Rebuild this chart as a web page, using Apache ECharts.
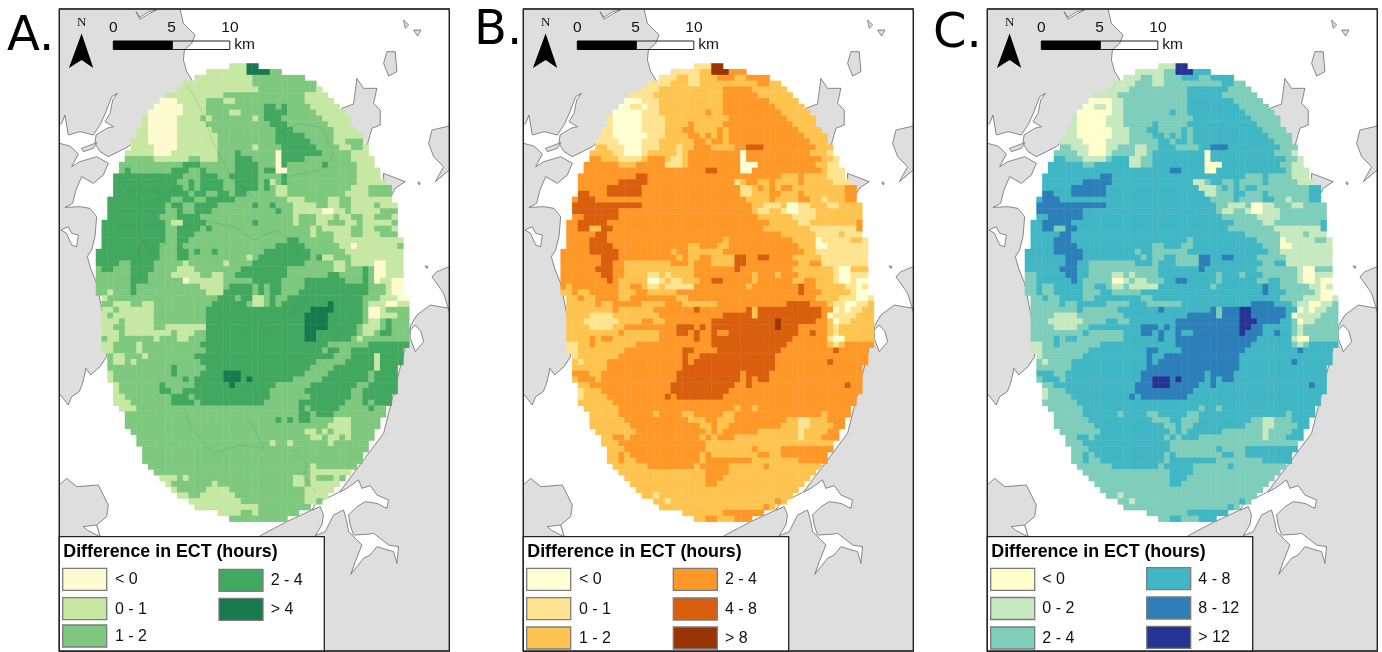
<!DOCTYPE html>
<html><head><meta charset="utf-8">
<script src="https://cdn.jsdelivr.net/npm/echarts@6/dist/echarts.min.js"></script>
<style>html,body{margin:0;background:#fff}#c{width:1382px;height:652px}</style></head>
<body><div id="c"></div>
<script>
// Raster extents (shared by the three maps): first and one-past-last column per row
const rowStart=[23,19,17,15,14,12,11,10,9,8,8,7,7,6,6,5,5,4,4,3,3,3,3,2,2,2,2,1,1,1,1,1,0,0,0,0,0,0,0,0,1,1,1,1,1,1,1,1,1,1,2,2,2,2,2,3,3,3,3,4,5,5,5,6,7,7,8,8,8,9,10,11,12,13,14,16,17,21,23];
const rowEnd=[28,32,36,38,39,40,41,42,43,44,44,45,46,46,47,47,48,48,49,49,50,51,51,51,52,52,52,52,52,52,53,53,53,53,53,53,53,53,53,53,54,54,54,54,54,54,54,54,54,53,53,53,52,52,52,52,52,51,51,50,50,49,49,48,48,47,47,46,46,45,44,43,42,41,40,39,37,35,33];
// Each row: class letter + column at which that class starts
const rowsA=["b0e26","b0e26c30","b0c27","b0c27","b0c28b38","b0c22b36","a0b14c19b22c24b36","a0b15c19d29c31d32c33b37","a0b15c19b23c25d29c33b38","b0a9b14c18b19c20b27c28d29c32b39","b0a9b14c19b20c20d30c33b40","b0a9b14c20d31c34b41","b0a9b14c21d31c36b41","b0a9b14c21d31c37b41c43","b0a10b14c21b27c28d32c38b42c44b46","c0b5a10b13c21d24c25a31d32c39b44","c0b10c16b18c21d24c27a31d32c36b44","c0d15c18d24c28a31d32c33d39c40b45","c0d5c6d13c16d18c19d24c28d29a31c33b45","d0c15d18c21d23c28d32c33b45","d0c14d16c17d18c22d24c28d29c30b30c31d32c33b45","d0c15d16c17d18c22d24c28d29c30b31c33b44c47","d0c16d17c19d21c23d24c26b31c33b43c47","d0c13d15c17d19c24b33c36b40c42b44","d0c12d13c15d17c21d27c28d30c31b34c38b40c42b44c48b49","d0c12d14c15d17c20d31c32b34a39b41c43b44c49","d0c11d14c18b34c35b38c41b42c44b46c48b51","d0c12b13c15d15c19d27c28b34c35b38c40b43c45b46c51","d0c12d14c18d19c20b37c38b39c44b46c48b51","d0c12d14c17b37c38b41c44b46c49","d0c12d14c16d33c35b41","d0c11d14c15d31c36b42a44b45c52","d0c11d14c16d17c18d20c21d29c37b43","d0c11d14c16b26c27d28c37d38c39b39c41b44","d0c4d6c10b15c16b22c23d27c36b41c43b44a48b50","c0d1c3d6c10b14c17d25c33b41c43d46c47a48b50","c0d6c9b13c18b20c22d24c33d40c42d46c47a48b50","c0d6c9b15a15b16c22d27c32d36c39d39c43d46c47a48b49a51b53","c0d6c7b18c22d23c27d28c29d30c32c33d36c47b50a51b53","c0b2c3d6c7b19c22d22c27d28c29d30c32d35c47b50a51b53","c0b1c2d21c24d25c27b27c29d30c31d33c46c48b49a52","c0b3c6b8c10d20c26b27c29d30c31d32e40d41c46b47a50b52","b0c3b4c10d19e37d41c46a47b49c50","b0c2b3c10d19e36d40c46a47b49c52","c0b1c4b5c10d19e36d40c46b47c49d50c51","c0b1c3b5c10b12d19e36d40c45b46c49d50c51","c0b1c4b5c13b14c17d19e36d38c45b46c48d49c51","c0b2c4b10c11b14c16d19e36d38c44b45c46","b0c3b7c8d18c40c44d47","b0c3b7c8d19c39d40c42d44","b0c2b3c5b8c9d17c41d44b48d49","c0b3c5b6c7d18c38d43b48d49","c0d13c14d19c37d41b48d49","c0b1c3d13c14d18e22d25c36d40c47d48","b0c3d15c16d17e22d25e26d27c34d39c47d48","b0c4d11c12d17e23d24c31d37c45d47","b0c4d11c13d15c30d36c44d46","b0c5d13c16d17c30d37c44d46","b0c6d13c17d18c29d35c43d46c47d48","b0c7d35c36d37c42d47c48","c0d35c37d38c41","c0d31c32d33c34d35c37b41c44","c0b40c44","c0b36c38b39c40b41c44","c0b37c39b40c42b43c44","c0b30c31b33c34b40c41","c0","c0","c0","c0b37c38","c0b37c38b38c44","b0c14b15c16b34c36b37c38b41c42b43","b0c13b20c21b34c36b37","b0c14b19c23b36","b0c16b18c24b36","b0c25b36c38","b0c27b27c28","b0c25b27c28","c0"];
const rowsB=["b0f26","b0c24f26d29","b0c20b22c24d27c30d32c36","b0c19b22c24d34c36","b0c17d28c33","b0c16d28c34","a0b14c17d28c36","a0b12a14b15c17d28c37","a0b14c17d25c26d28c38","b0a9b14c18d29c39","b0a9b14c18d22c23d28c40","b0a9b14c18d21c23d27c28d29c41","b0a9b15c18d22c24d25c26d27c28d29c42","c0b6a10b14c17d23c25d26c28d29c43","c0b8a11b14c17b20c21d23c26c29d30e32d35c44","c0b9a11b14c15b20c21d22a31d32c43b46","d0c7b10c14d15c18b19c21d22a31d32c45b47","d0c10d13b18c21d22a31d34c44b46","d0e25d27a31d33c45b46","d0e13d15c38d41c42b46","d0e10d15b30c31d32c34d36c37d41c42c46b47","d0e8d14b31c33d34c35d36c37d38c40d49","d0e3d5e8d14b31c33d36c38d41c42d49","d0e3d6d14c32d36c37d41c43b45c46d49","e0d14c33b35c38a39b41c43b46c48","e0d10c33b34c36b38a39b41c44","d0e4d10c34b40c44","d0e3d8c36b41c43d51","d0e3c5e7d9c35b43d51","d0e6d8c38b44c48b49","d0e5d8c28d29c40a44b45c50b52","d0e5d9c22d24c27d29c41a44b46","d0e5d10c19d20c22d28c42b44","d0e7d10c20d21c22d24c26d30e30d32e34d36c40b45","d0e7d9c11d19c22d23c26d30e30d32c41d43b45","d0e6d9c11d23e30d31c40b47a48c50","d0e7d9c11b15c17b18c19d23c33d34c37d38c41b47a48b50","d0e8d9c10a15b17c18b19c21d24e26d28c33d34c40d42c44b47a48b50a51b53","d0c1d2c10d12c14b15c17b18d23c32d33e41d42c44b49a51b52","c0d2c3d5c10d13c15d20e41d42c45b50a51b53","c0d3c4d6c10d12c20d22c44b48a51b53","c0d6c7d9c14d18c21d27e39d43c46b47a49b51c53","c0d9c10c15d16e23d24e32c33e34e44d45c47a47b48a49b50c52","c0b5c9c14d17e28c33e34e44d45a46b47c51","c0b4c10d14c16d18e26f37e38d44c46a47b48c50","c0b5c9d11e20d23e24d25e26f37e38d41c46b47c48","c0d10c11c15d17e20d22e23d24e26d27e29d41e43d44c46b47c48","c0d5c6d7c9d17e23d24e26d40c46b46a47c49","b0c3d5c6d13e26d39c46b47c48d49","b0c3d11e21d23e27d38e47d48","c0b2c3d10e21d22e24d37","c0b3c4d8e21d22e23d37e46d47","c0d8e21d37","d0c5d7e20d31e32d33e33d36","c0d3c6d7e20d31e32d33e34d36","c0d5e19d30e32d33e49d50","b0c4d7e19d29","b0c4d8e18d19e20d28","c0d9","c0d10c30d31c33d34","c0d10c16d17c21d23c28d30c45d46","c0d11c22d25c27d30c39b41c43d46","c0d12c24d26c27d29c38b41c43d47","c0d13c25d26c27d28c34b41c42d46","c0d9c11d12c24d25c26d27c30b41c42d45","c0d10c25","c0d11c25d33c34d38","c0d10c11d12c24d25c26d34c36d38","c0d10c11d13c24d25c33d41","c0d15c23d24c29d35c36","c0d25c29","c0d25c28","c0d25c27","c0","c0b16c17","c0b18c19d37c38","c0d35c36","c0d28","c0d25c27d30"];
const rowsC=["b0f26","b0c24b26f26d29","b0c20b22c24d27c30d32c36","b0c19b22c24d34c36","b0c18d28c35","b0c16d28c34","a0b15c17d28c36","a0b12a14b15c17d28c37","a0b15c17d25c26d28c38","b0a9b14c17d29c39","b0a9b14c17d22c23d28c40","b0a9b15c18d21c23d27c28d29c41","b0a9b15c18d22c24d25c26d27c28d29c42","c0b6a10b14c18d23c25d26c28d29c43","c0b8a11b14c16b19c21d23c26c29d30e32d35c44","c0b9a11b14c15b19c21d22a31d32c43b46","d0c7b10c14d15c18b18c20d22a31d32c45b47","d0c10d12b18c20d22a31d34c44b46","d0e25d27a31d33c45b46","d0e13d15c38d41c42b46","d0e10d15b29c31d32c34d36c37d41c42c46b47","d0e8d14b30c33d34c35d36c37d38c40d49","d0e3d5e8d14b31c33d36c38d41c42d49","d0e3d6d14c32d36c37d41c43b45c46d49","e0d14c33b35c38a39b41c43b46c48","e0d10c33b34c36b38a39b41c44","d0e4d10c34b40c44","d0e3d8c36b41c43d51","d0e3c5e7d9c35b43d51","d0e6d8c38b44c48b49","d0e5d8c28d29c40a44b45c50b52","d0e5d9c22d24c27d29c41a44b46","d0e5d10c19d20c22d28c42b44","d0e7d10c20d21c22d24c26d30e30d32e34d36c40b45","d0e7d9c11d19c22d23c26d30e30d32c41d43b45","d0e6d9c11d23e30d31c40b47a48c50","c0d2e7d9c11b15c17b18c19d23c33d34c37d38c41b47a48b50","c0d2e8d9c10a15b17c18b19c21d24e26d28c33d34c40d42c44b47a48b50a51b53","c0d2c3d5c10d12c14b15c17b18d23c32d33e41d42c44b49a51b52","c0d2c3d5c10d13c15d20e41d42c45b50a51b53","c0d3c4d6c10d12c20d22c44b48a51b53","c0d6c7d9c14d18c21d27e39d43c46b47a49b51c53","c0d9c10c15d16e23d24e32c33e34f37e39e44d45c47a47b48a49b50c52","c0b5c9c14d17e28c33e34f37e39e44d45a46b47c51","c0b4c10d14c16d18e26f37e40d44c46a47b48c50","c0b5c9d11e20d23e24d25e26f37e39d41c46b47c48","c0d10c11c15d17e20d22e23d24e26d27e29f37e38d41e43d44c46b47c48","c0d5c6d7c9d17e23d24e26d40c46b46a47c49","b0c3d5c6d13e26d39c46b47c48d49","b0c3d11e21d23e27d38e47d48","c0b2c3d10e21d22e24d37","c0b3c4d8e21d22e23d37e46d47","c0d8e21d37","d0c5d7e20d31e32d33e33d36","c0d3c6d7e20f22e25f26e27d31e32d33e34d36","c0d5e19f22e25d30e32d33e49d50","b0c4d7e19d29","b0c4d8e18d19e20d28","c0d9","c0d10c30d31c33d34","c0d10c16d17c21d23c28d30c45d46","c0d11c22d25c27d30c39b41c43d46","c0d12c24d26c27d29c38b41c43d47","c0d13c25d26c27d28c34b41c42d46","c0d9c11d12c24d25c26d27c30b41c42d45","c0d10c25","c0d11c25d33c34d38","c0d10c11d12c24d25c26d34c36d38","c0d10c11d13c24d25c33d41","c0d15c23d24c29d35c36","c0d25c29","c0d25c28","c0d25c27","c0","c0b16c17","c0b18c19d37c38","c0d35c36","c0d28","c0d25c27d30"];
// Class colours and legend text
const colorsA={a:'#fffbd0',b:'#c7e8a3',c:'#7fc87f',d:'#42a85f',e:'#177a4f'};
const colorsB={a:'#ffffd4',b:'#fee391',c:'#fec44f',d:'#fe9929',e:'#d95f0e',f:'#993404'};
const colorsC={a:'#ffffcc',b:'#c7e9c0',c:'#7fcdbb',d:'#41b6c4',e:'#2c7fb8',f:'#253494'};
const labelsA=['< 0','0 - 1','1 - 2','2 - 4','> 4'];
const labelsB=['< 0','0 - 1','1 - 2','2 - 4','4 - 8','> 8'];
const labelsC=['< 0','0 - 2','2 - 4','4 - 8','8 - 12','> 12'];
const scaleTicks=['0','5','10'];
// Base map outlines, in map units
const land=[
[[178,27],[540,27],[550,70],[585,105],[575,130],[553,150],[550,180],[560,215],[578,245],[600,400],[400,425],[385,440],[355,455],[325,470],[300,455],[285,430],[288,405],[320,385],[340,380],[315,365],[330,340],[338,300],[352,280],[335,290],[320,330],[300,375],[280,405],[240,395],[205,405],[195,345],[185,370],[178,375]],
[[178,430],[210,438],[235,462],[215,500],[240,485],[290,470],[325,490],[310,525],[280,550],[245,530],[228,570],[218,610],[195,622],[240,620],[270,625],[290,650],[285,710],[275,750],[262,770],[272,805],[290,850],[320,1000],[320,1070],[300,1100],[272,1125],[258,1105],[248,1150],[238,1175],[215,1190],[205,1215],[178,1180]],
[[178,1455],[200,1435],[230,1460],[295,1455],[325,1515],[320,1550],[290,1575],[300,1610],[178,1610]],
[[1347,925],[1290,915],[1250,945],[1232,975],[1150,1300],[1000,1500],[860,1565],[780,1607],[780,1953],[1347,1953]],
[[1025,325],[1060,312],[1070,235],[1090,265],[1130,265],[1120,310],[1140,330],[1140,375],[1115,385],[1100,440],[1000,400]],
[[1150,520],[1215,545],[1185,565],[1175,585],[1150,580]],
[[1160,155],[1185,155],[1190,215],[1165,228],[1150,190]],
[[1347,378],[1295,390],[1285,430],[1300,470],[1330,500],[1305,545],[1347,510]],
[[1347,800],[1310,815],[1295,830],[1330,880],[1347,935]],
[[1210,60],[1225,75],[1215,85]],[[1240,90],[1262,90],[1252,108]],[[245,445],[290,428],[280,445],[250,455]],[[1275,798],[1283,800],[1280,806]],[[1253,545],[1260,550],[1257,555]]
];
const water=[
[[183,690],[205,680],[215,700],[235,705],[230,740],[215,735],[200,700]],
[[408,35],[420,52],[445,35],[470,30],[445,42],[420,58]],
[[250,1580],[290,1575],[300,1610],[280,1600],[262,1590]],
[[950,1505],[990,1490],[1040,1465],[1075,1440],[1085,1465],[1110,1457],[1130,1485],[1165,1500],[1160,1525],[1130,1510],[1095,1505],[1070,1520],[1045,1545],[1050,1575],[1060,1605],[1100,1603],[1120,1600],[1165,1635],[1195,1640],[1190,1690],[1180,1655],[1130,1640],[1110,1665],[1090,1675],[1070,1700],[1052,1723],[1065,1685],[1085,1635],[1065,1615],[1045,1595],[1040,1565],[1030,1530],[1000,1545],[975,1595],[945,1607],[965,1575],[970,1545],[960,1520],[935,1530]],
[[1230,990],[1245,975],[1262,995],[1270,1025],[1245,1055],[1230,1015]]
];
const faintLines=[
[[355,530],[400,590],[430,615],[500,590],[540,550]],[[560,255],[600,320],[640,430],[700,540],[760,590]],[[400,790],[430,720],[450,760],[500,730]],
[[830,400],[900,370],[970,385],[1000,470],[960,510],[860,530]],[[600,660],[700,680],[760,720],[830,690],[900,760]],[[555,1230],[570,1280],[640,1360],[720,1335],[790,1345],[750,1260]],[[880,1350],[920,1390],[910,1430],[950,1480]],[[880,940],[910,900],[960,930],[1030,1000],[950,1100]]
];

const cellCols=54,cellRows=79;
const panels=[
 {rows:rowsA,colors:colorsA,labels:labelsA,x:59.3,mapX:96,tag:'A.',tagX:7,tagY:38,legendW:265,col2:159.7,lab2:211.4,lab1:55.7,sw1:3.4,rowsY:[568.3,597.7,625],rows2Y:[569.3,598.3]},
 {rows:rowsB,colors:colorsB,labels:labelsB,x:523.3,mapX:560.7,tag:'B.',tagX:474,tagY:32,legendW:265.4,col2:150,lab2:201.7,lab1:55.7,sw1:3.4,rowsY:[568.3,597.7,627],rows2Y:[568.3,598,627]},
 {rows:rowsC,colors:colorsC,labels:labelsC,x:987.3,mapX:1025,tag:'C.',tagX:933,tagY:35,legendW:265.4,col2:159.4,lab2:211,lab1:55,sw1:3.4,rowsY:[568.3,597.5,627],rows2Y:[567.7,597,626.3]}
];

const cats=n=>Array.from({length:n},(_,i)=>String(i));
const grids=[],xAxes=[],yAxes=[],series=[],gfx=[];
function rasterData(p){
  const out=[];
  p.rows.forEach((row,r)=>{
    const runs=row.match(/[a-f]\d+/g).map(t=>[t[0],+t.slice(1)]);
    runs.forEach((run,i)=>{
      const from=Math.max(run[1],rowStart[r]);
      const to=i+1<runs.length?Math.min(runs[i+1][1],rowEnd[r]):rowEnd[r];
      for(let c=from;c<to;c++) out.push({value:[c,r,1],itemStyle:{color:p.colors[run[0]]}});
    });
  });
  return out;
}
function polySeries(gi,polys,fill,stroke,lw,z,op){
  series.push({type:'custom',xAxisIndex:gi,yAxisIndex:gi,z,silent:true,clip:true,animation:false,
    encode:{x:0,y:1},data:polys.map((p,i)=>[p[0][0],p[0][1],i]),
    renderItem:(params,api)=>{
      const pts=polys[params.dataIndex].map(q=>api.coord(q));
      return fill?{type:'polygon',shape:{points:pts},style:{fill,stroke,lineWidth:lw}}
                 :{type:'polyline',shape:{points:pts},style:{fill:'none',stroke,lineWidth:lw,opacity:op}};
    }});
}
const txt=(x,y,text,size,extra)=>gfx.push({type:'text',x,y,z:100,silent:true,style:Object.assign({text,fill:'#111',font:size+'px "Liberation Sans"',textVerticalAlign:'middle'},extra||{})});
const rect=(x,y,w,h,fill,stroke,lw)=>gfx.push({type:'rect',z:99,silent:true,shape:{x,y,width:w,height:h},style:{fill,stroke,lineWidth:lw}});

panels.forEach((p,i)=>{
  const gi=i*2;
  grids.push({left:p.x,top:9,width:390,height:642,show:true,backgroundColor:'#fff',borderColor:'#333',borderWidth:1});
  xAxes.push({gridIndex:gi,type:'value',min:178,max:1347,show:false});
  yAxes.push({gridIndex:gi,type:'value',min:27,max:1953,inverse:true,show:false});
  grids.push({left:p.mapX,top:63.5,width:cellCols*5.8,height:cellRows*5.8});
  xAxes.push({gridIndex:gi+1,type:'category',data:cats(cellCols),show:false});
  yAxes.push({gridIndex:gi+1,type:'category',data:cats(cellRows),inverse:true,show:false});
  polySeries(gi,land,'#dedede','#5a5a5a',0.7,1);
  polySeries(gi,water,'#fff','#5a5a5a',0.7,2);
  series.push({type:'heatmap',xAxisIndex:gi+1,yAxisIndex:gi+1,z:3,data:rasterData(p),progressive:0,animation:false,silent:true,emphasis:{disabled:true}});
  if(i===0) polySeries(gi,faintLines,null,'#1f5f3a',0.7,4,0.22);

  // panel tag, frame
  txt(p.tagX,p.tagY,p.tag,48,{font:'48px "DejaVu Sans"',fill:'#000'});
  rect(p.x,9,390,642,'none','#222',1.3);
  // north arrow
  const ax=p.x+22.3;
  gfx.push({type:'polygon',z:100,silent:true,shape:{points:[[ax,33.5],[ax+11.7,68],[ax,60],[ax-12.7,68]]},style:{fill:'#000'}});
  txt(ax-4.5,23,'N',13,{font:'13px "Liberation Serif"'});
  // scale bar
  rect(p.x+54,41,59,8.5,'#000','#000',1);
  rect(p.x+113,41,57.5,8.5,'none','#222',1);
  scaleTicks.forEach((t,k)=>txt(p.x+54+k*58.3,28,t,15.5,{textAlign:'center'}));
  txt(p.x+175,44.5,'km',15.5);
  // legend
  rect(p.x,536.7,p.legendW,114.3,'#fff','#222',1.3);
  txt(p.x+4,551.7,'Difference in ECT (hours)',18,{font:'bold 17.8px "Liberation Sans"',fill:'#000'});
  const keys=Object.keys(p.colors);
  keys.forEach((k,j)=>{
    const left=j<3, row=left?j:j-3;
    const sx=p.x+(left?p.sw1:p.col2), sy=left?p.rowsY[row]:p.rows2Y[row];
    rect(sx,sy,44,22,p.colors[k],'#7c7c7c',1.3);
    txt(p.x+(left?p.lab1:p.lab2),sy+11.5,p.labels[j],16);
  });
});

const chart=echarts.init(document.getElementById('c'),null,{renderer:'canvas'});
chart.setOption({animation:false,backgroundColor:'#fff',grid:grids,xAxis:xAxes,yAxis:yAxes,series,graphic:{elements:gfx}});
</script></body></html>
